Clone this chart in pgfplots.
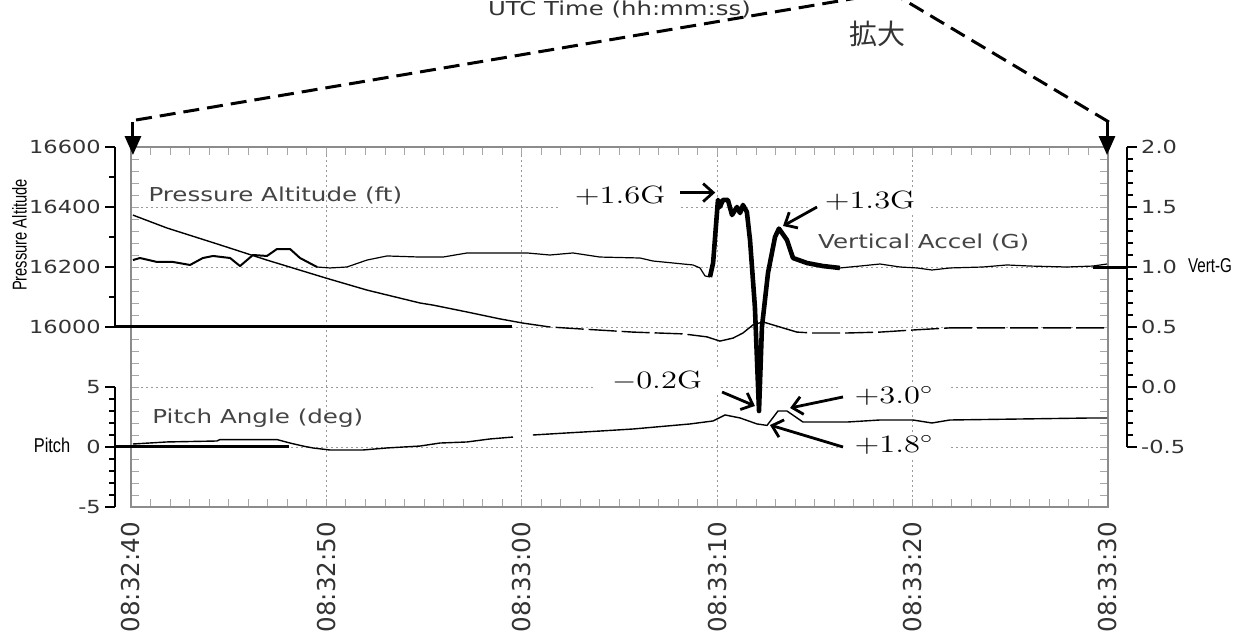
\documentclass[border=0pt]{standalone}
\usepackage{pgfplots}
\pgfplotsset{compat=1.18}
\usetikzlibrary{arrows.meta}
\usepackage{fontspec}
\newfontfamily\dv{DejaVu Sans}
\newfontfamily\ls{Liberation Sans}
\newfontfamily\cjk{Noto Sans CJK JP}
\definecolor{boxgray}{HTML}{8C8C8C}
\definecolor{tickgray}{HTML}{A6A6A6}
\definecolor{gridgray}{HTML}{9A9A9A}
\definecolor{labgray}{HTML}{333333}
\definecolor{ingray}{HTML}{444444}

% 1 px of the reference = 0.5pt
\pgfplotsset{
  fullbox/.style={scale only axis, width=488.5pt, height=180pt,
    xmin=0, xmax=50, clip=false},
  scalebar/.style={scale only axis, width=1pt, xmin=0, xmax=1,
    axis x line=none, scaled y ticks=false,
    yticklabel style={font=\dv\fontsize{9}{11}\selectfont, text=labgray,
      xscale=1.25, inner sep=1.5pt}},
  scalefinish/.style={tick align=outside,
    axis line style={-}, y axis line style={-, draw=black, line width=0.8pt},
    major tick length=5pt, minor tick length=3pt,
    tick style={draw=black, line width=0.8pt}},
}
\tikzset{
  ann/.style={fill=white, inner xsep=6pt, inner ysep=2pt,
    font=\fontsize{12.5}{14}\selectfont, xscale=1.3},
  annarrow/.style={line width=1.4pt, -{Straight Barb[length=5pt,width=9pt]}},
  inlab/.style={font=\dv\fontsize{9.6}{11}\selectfont, text=ingray,
    xscale=1.28, inner sep=0pt},
}

\begin{document}
\begin{tikzpicture}

% frame, grid, vertical acceleration (G)
\begin{axis}[fullbox, ymin=-1, ymax=2,
  axis line style={draw=boxgray, line width=1.2pt},
  xtick={0,10,20,30,40,50},
  xticklabels={08:32:40,08:32:50,08:33:00,08:33:10,08:33:20,08:33:30},
  minor x tick num=9,
  ytick={-1,-0.5,0,0.5,1,1.5,2},
  yticklabels={},
  minor y tick num=4,
  tick align=inside,
  major tick length=4pt, minor tick length=4pt,
  tick style={draw=tickgray, line width=0.5pt},
  grid=major,
  major grid style={draw=gridgray, line width=0.5pt, dash pattern=on 1pt off 1.5pt},
  xticklabel style={font=\dv\fontsize{12.3}{14}\selectfont, text=labgray,
    rotate=90, anchor=east},
  xticklabel shift=4pt,
]
\addplot[black, line width=1pt, line join=round] coordinates {
(0.10,1.058) (0.46,1.075) (1.33,1.042) (2.15,1.042) (3.02,1.017) (3.68,1.075)
(4.20,1.092) (5.07,1.075) (5.58,1.008) (6.24,1.100) (6.96,1.092) (7.47,1.150)
(8.14,1.150) (8.65,1.075) (9.52,1.000)};
\addplot[black, line width=0.6pt, line join=round] coordinates {
(9.52,1.000) (10.18,0.992) (11.05,1.000) (12.08,1.058) (13.10,1.092) (14.79,1.083)
(15.97,1.083) (17.20,1.117) (18.88,1.117) (20.27,1.117) (21.44,1.100) (22.62,1.117)
(24.00,1.083) (26.05,1.075) (26.71,1.050) (28.76,1.017) (29.12,0.992) (29.38,0.925)
(29.63,0.917)};
\addplot[black, line width=2.3pt, line join=round] coordinates {
(29.63,0.917) (29.79,1.033) (30.04,1.560) (30.14,1.500) (30.30,1.560) (30.55,1.558)
(30.76,1.433) (31.01,1.500) (31.17,1.450) (31.32,1.517) (31.52,1.458) (31.68,1.225)
(31.93,0.667) (32.14,-0.200) (32.29,0.500) (32.60,0.950) (32.96,1.250) (33.16,1.320)
(33.57,1.225) (33.88,1.075) (34.60,1.033) (35.41,1.008) (36.28,0.992)};
\addplot[black, line width=0.6pt, line join=round] coordinates {
(36.28,0.992) (37.31,1.008) (38.33,1.025) (39.36,1.000) (40.23,0.992) (40.99,0.975)
(41.91,0.992) (43.60,1.000) (44.83,1.017) (46.01,1.008) (47.90,1.000) (49.23,1.008)
(49.95,1.025)};
\addplot[black, line width=1.5pt] coordinates {(49.23,1) (50.97,1)};

% series labels
\node[inlab, anchor=base west] at (axis cs:0.87,1.544) {Pressure Altitude (ft)};
\node[inlab, anchor=base west] at (axis cs:1.07,-0.30) {Pitch Angle (deg)};
\node[inlab, anchor=base east] at (axis cs:46.0,1.158) {Vertical Accel (G)};

% scale captions
\node[font=\ls\fontsize{10}{12}\selectfont, rotate=90, xscale=0.735]
  at (axis cs:-5.71,1.267) {Pressure Altitude};
\node[font=\ls\fontsize{10}{12}\selectfont, xscale=0.82]
  at (axis cs:-4.04,-0.483) {Pitch};
\node[font=\ls\fontsize{10}{12}\selectfont, xscale=0.76]
  at (axis cs:55.22,1.008) {Vert-G};

% annotations
\node[ann] at (axis cs:25.03,1.592) {+1.6G};
\node[ann] at (axis cs:37.82,1.550) {+1.3G};
\node[ann] at (axis cs:26.92,0.050) {$-$0.2G};
\node[ann] at (axis cs:39.05,-0.075) {+3.0$^\circ$};
\node[ann] at (axis cs:39.05,-0.483) {+1.8$^\circ$};
\draw[annarrow] (axis cs:28.10,1.620) -- (axis cs:29.90,1.620);
\draw[annarrow] (axis cs:35.11,1.500) -- (axis cs:33.37,1.342);
\draw[annarrow] (axis cs:30.25,-0.042) -- (axis cs:31.93,-0.158);
\draw[annarrow] (axis cs:36.44,-0.083) -- (axis cs:33.73,-0.175);
\draw[annarrow] (axis cs:36.44,-0.500) -- (axis cs:32.70,-0.317);

% zoom-in marks above the frame
\draw[line width=1.5pt, dash pattern=on 8pt off 4pt]
  (axis cs:0.26,2.225) -- (axis cs:38.9,3.29);
\draw[line width=1.5pt, dash pattern=on 8pt off 4pt]
  (axis cs:50.05,2.208) -- (axis cs:38.9,3.29);
\draw[line width=1.5pt, -{Triangle[length=9.5pt,width=8pt]}]
  (axis cs:0.10,2.208) -- (axis cs:0.10,1.933);
\draw[line width=1.5pt, -{Triangle[length=9.5pt,width=8pt]}]
  (axis cs:49.95,2.208) -- (axis cs:49.95,1.933);
\node[font=\dv\fontsize{9.6}{11}\selectfont, text=labgray, xscale=1.27, anchor=base]
  at (axis cs:25.0,3.10) {UTC Time (hh:mm:ss)};
\node[font=\cjk\fontsize{14}{16}\selectfont, text=labgray]
  at (axis cs:38.18,2.94) {拡大};
\end{axis}

% pressure altitude (ft)
\begin{axis}[fullbox, ymin=15400, ymax=16600, hide axis]
\addplot[black, line width=0.7pt] coordinates {
(0.10,16373) (1.84,16330) (4.40,16277) (6.96,16223) (9.98,16163) (12.08,16123)
(14.79,16080) (15.46,16073) (17.20,16050) (18.88,16027) (20.06,16013)};
\addplot[black, line width=0.7pt, dash pattern=on 14pt off 2.5pt] coordinates {
(20.06,16013) (21.44,16000) (23.13,15993) (25.69,15983) (28.25,15977) (29.12,15970)};
\addplot[black, line width=0.7pt] coordinates {
(29.12,15970) (29.48,15967) (30.14,15953) (30.81,15963) (31.32,15980) (31.83,16007)
(32.34,16017) (33.21,16000)};
\addplot[black, line width=0.7pt, dash pattern=on 14pt off 2.5pt] coordinates {
(33.21,16000) (34.08,15983) (34.90,15980) (36.64,15980) (38.33,15983) (40.02,15990)
(41.91,15997) (44.47,15997) (49.95,15997)};
\addplot[black, line width=1.5pt] coordinates {(-0.82,16000) (19.5,16000)};
\end{axis}

% pitch angle (deg)
\begin{axis}[fullbox, ymin=-5, ymax=25, hide axis, unbounded coords=jump]
\addplot[black, line width=0.7pt] coordinates {
(0.10,0.25) (1.84,0.42) (4.40,0.50) (4.55,0.62) (7.47,0.62) (8.14,0.33)
(8.80,0.08) (9.31,-0.08) (10.18,-0.25) (11.87,-0.25) (13.10,-0.08) (14.79,0.08)
(15.81,0.33) (17.20,0.42) (18.37,0.67) (19.55,0.83) (19.6,nan)
(20.57,1.00) (22.31,1.17) (24.00,1.33) (25.69,1.50) (27.43,1.75) (28.61,1.92)
(29.79,2.17) (30.40,2.67) (31.17,2.42) (32.04,1.92) (32.55,1.80) (32.80,2.33)
(33.11,3.00) (33.57,3.00) (34.39,2.08) (36.64,2.08) (38.33,2.25) (40.02,2.25)
(40.99,2.00) (41.91,2.25) (49.23,2.42) (49.95,2.42)};
\addplot[black, line width=1.5pt] coordinates {(-0.82,0) (8.09,0)};
\end{axis}

% left scale: pressure altitude
\begin{axis}[scalebar, at={(-8pt,90pt)}, anchor=south west, height=90pt,
  ymin=16000, ymax=16600, axis y line=left, scalefinish,
  ytick={16000,16200,16400,16600}, minor ytick={16100,16300,16500},
  yticklabels={16000,16200,16400,16600}]
\end{axis}

% left scale: pitch
\begin{axis}[scalebar, at={(-8pt,0pt)}, anchor=south west, height=60pt,
  ymin=-5, ymax=5, axis y line=left, scalefinish,
  ytick={-5,0,5}, minor ytick={-4,-3,-2,-1,1,2,3,4},
  yticklabels={-5,0,5}]
\end{axis}

% right scale: vertical G
\begin{axis}[scalebar, at={(497pt,30pt)}, anchor=south west, height=150pt,
  ymin=-0.5, ymax=2, axis y line=right, scalefinish,
  ytick={-0.5,0,0.5,1,1.5,2}, minor y tick num=4,
  yticklabels={-0.5,0.0,0.5,1.0,1.5,2.0}]
\end{axis}

\pgfresetboundingbox
\path[use as bounding box] (-65.5pt,-65.5pt) rectangle (554pt,253.5pt);
\end{tikzpicture}
\end{document}
